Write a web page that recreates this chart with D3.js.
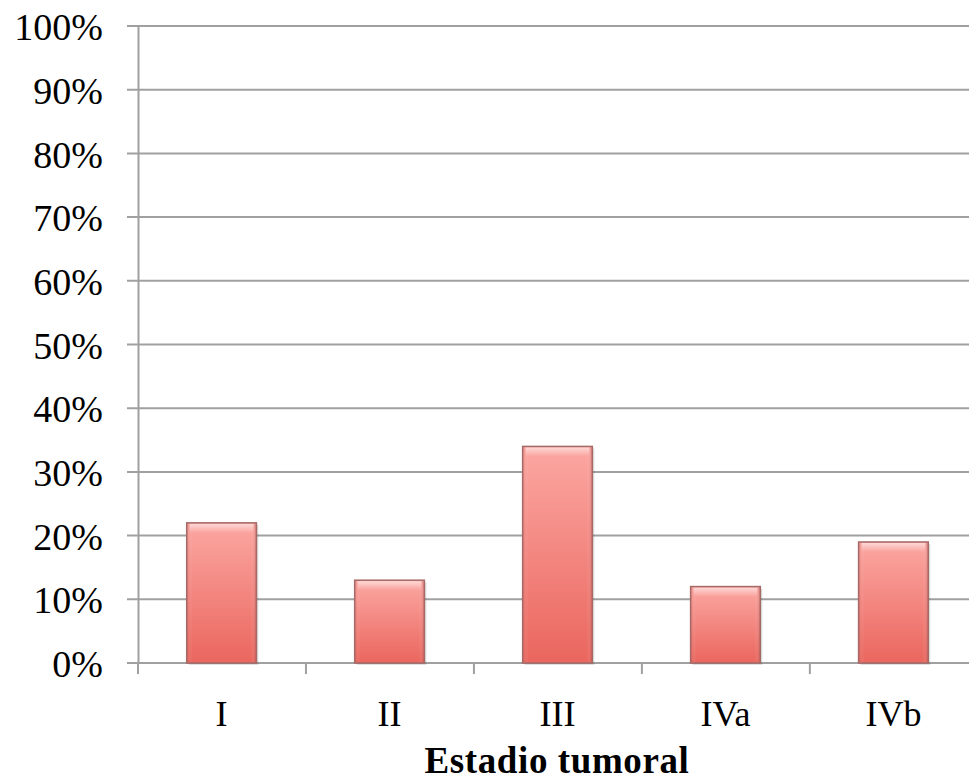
<!DOCTYPE html>
<html>
<head>
<meta charset="utf-8">
<script src="https://cdn.jsdelivr.net/npm/d3@7"></script>
<style>
  html, body { margin: 0; padding: 0; background: #fff; }
  svg { display: block; }
</style>
</head>
<body>
<svg id="chart" width="969" height="782"></svg>
<script>
// Distribution of cases by tumour stage (share of total)
const categories = ["I", "II", "III", "IVa", "IVb"];
const values = [0.22, 0.13, 0.34, 0.12, 0.19];
const yTicks = [0, 0.1, 0.2, 0.3, 0.4, 0.5, 0.6, 0.7, 0.8, 0.9, 1.0];
const xTitle = "Estadio tumoral";

const svg = d3.select("#chart");
const font = "'Liberation Serif', 'DejaVu Serif', serif";

const x = d3.scaleBand().domain(categories).range([138, 977]).paddingInner(0.585).paddingOuter(0.29);
const y = d3.scaleLinear().domain([0, 1]).range([663, 26]);

// gradients for the bevelled bars
const defs = svg.append("defs");
const g = defs.append("linearGradient").attr("id", "barFill").attr("x1", 0).attr("y1", 0).attr("x2", 0).attr("y2", 1);
g.append("stop").attr("offset", "0%").attr("stop-color", "#fca7a2");
g.append("stop").attr("offset", "100%").attr("stop-color", "#ea665e");
const gh = defs.append("linearGradient").attr("id", "barSide").attr("x1", 0).attr("y1", 0).attr("x2", 1).attr("y2", 0);
gh.append("stop").attr("offset", "0%").attr("stop-color", "#c04040").attr("stop-opacity", 0.25);
gh.append("stop").attr("offset", "8%").attr("stop-color", "#ffffff").attr("stop-opacity", 0.0);
gh.append("stop").attr("offset", "92%").attr("stop-color", "#ffffff").attr("stop-opacity", 0.0);
gh.append("stop").attr("offset", "100%").attr("stop-color", "#a03030").attr("stop-opacity", 0.3);
const gt = defs.append("linearGradient").attr("id", "barTop").attr("x1", 0).attr("y1", 0).attr("x2", 0).attr("y2", 1);
gt.append("stop").attr("offset", "0%").attr("stop-color", "#ffffff").attr("stop-opacity", 0.55);
gt.append("stop").attr("offset", "100%").attr("stop-color", "#ffffff").attr("stop-opacity", 0.0);

// horizontal gridlines
svg.append("g")
  .selectAll("line")
  .data(yTicks)
  .join("line")
  .attr("x1", 127).attr("x2", 969)
  .attr("y1", d => y(d)).attr("y2", d => y(d))
  .attr("stroke", "#a0a0a0").attr("stroke-width", 2);

// y axis
const yAxis = svg.append("g")
  .attr("transform", "translate(138,0)")
  .call(d3.axisLeft(y).tickValues(yTicks).tickFormat(d3.format(".0%")).tickSize(0).tickPadding(35));
yAxis.select(".domain").attr("stroke", "#a0a0a0").attr("stroke-width", 2);
yAxis.selectAll("text").attr("font-family", font).attr("font-size", 38).attr("fill", "#000").attr("dy", "0.36em");

// x axis category labels
const xAxis = svg.append("g")
  .attr("transform", "translate(0,663)")
  .call(d3.axisBottom(x).tickSize(0).tickPadding(37));
xAxis.select(".domain").remove();
xAxis.selectAll("text").attr("font-family", font).attr("font-size", 36).attr("fill", "#000");

// category separator ticks and baseline
const step = x.step();
const tickX = d3.range(categories.length + 1).map(i => x(categories[0]) - x.paddingOuter() * step + i * step);
svg.append("g").selectAll("line").data(tickX).join("line")
  .attr("x1", d => d).attr("x2", d => d)
  .attr("y1", 663).attr("y2", 674)
  .attr("stroke", "#a0a0a0").attr("stroke-width", 2);
svg.append("line").attr("x1", 138).attr("x2", 969).attr("y1", y(0)).attr("y2", y(0))
  .attr("stroke", "#a0a0a0").attr("stroke-width", 2);

// bars
const bars = svg.append("g").selectAll("g").data(categories).join("g");
bars.append("rect")
  .attr("x", d => x(d) + 2).attr("y", (d, i) => y(values[i]) + 2)
  .attr("width", x.bandwidth()).attr("height", (d, i) => y(0) - y(values[i]))
  .attr("fill", "#000").attr("opacity", 0.12);
bars.append("rect")
  .attr("x", d => x(d)).attr("y", (d, i) => y(values[i]))
  .attr("width", x.bandwidth()).attr("height", (d, i) => y(0) - y(values[i]))
  .attr("fill", "url(#barFill)");
bars.append("rect")
  .attr("x", d => x(d)).attr("y", (d, i) => y(values[i]))
  .attr("width", x.bandwidth()).attr("height", (d, i) => y(0) - y(values[i]))
  .attr("fill", "url(#barSide)");
bars.append("rect")
  .attr("x", d => x(d) + 3).attr("y", (d, i) => y(values[i]) + 1)
  .attr("width", x.bandwidth() - 6).attr("height", 9)
  .attr("fill", "url(#barTop)");
bars.append("rect")
  .attr("x", d => x(d)).attr("y", (d, i) => y(values[i]))
  .attr("width", x.bandwidth()).attr("height", (d, i) => y(0) - y(values[i]))
  .attr("fill", "none").attr("stroke", "#a56a68").attr("stroke-width", 1.5);

// axis title
svg.append("text")
  .attr("x", 557).attr("y", 773)
  .attr("text-anchor", "middle")
  .attr("font-family", font).attr("font-size", 37).attr("font-weight", "bold")
  .attr("letter-spacing", 0.6)
  .text(xTitle);
</script>
</body>
</html>
